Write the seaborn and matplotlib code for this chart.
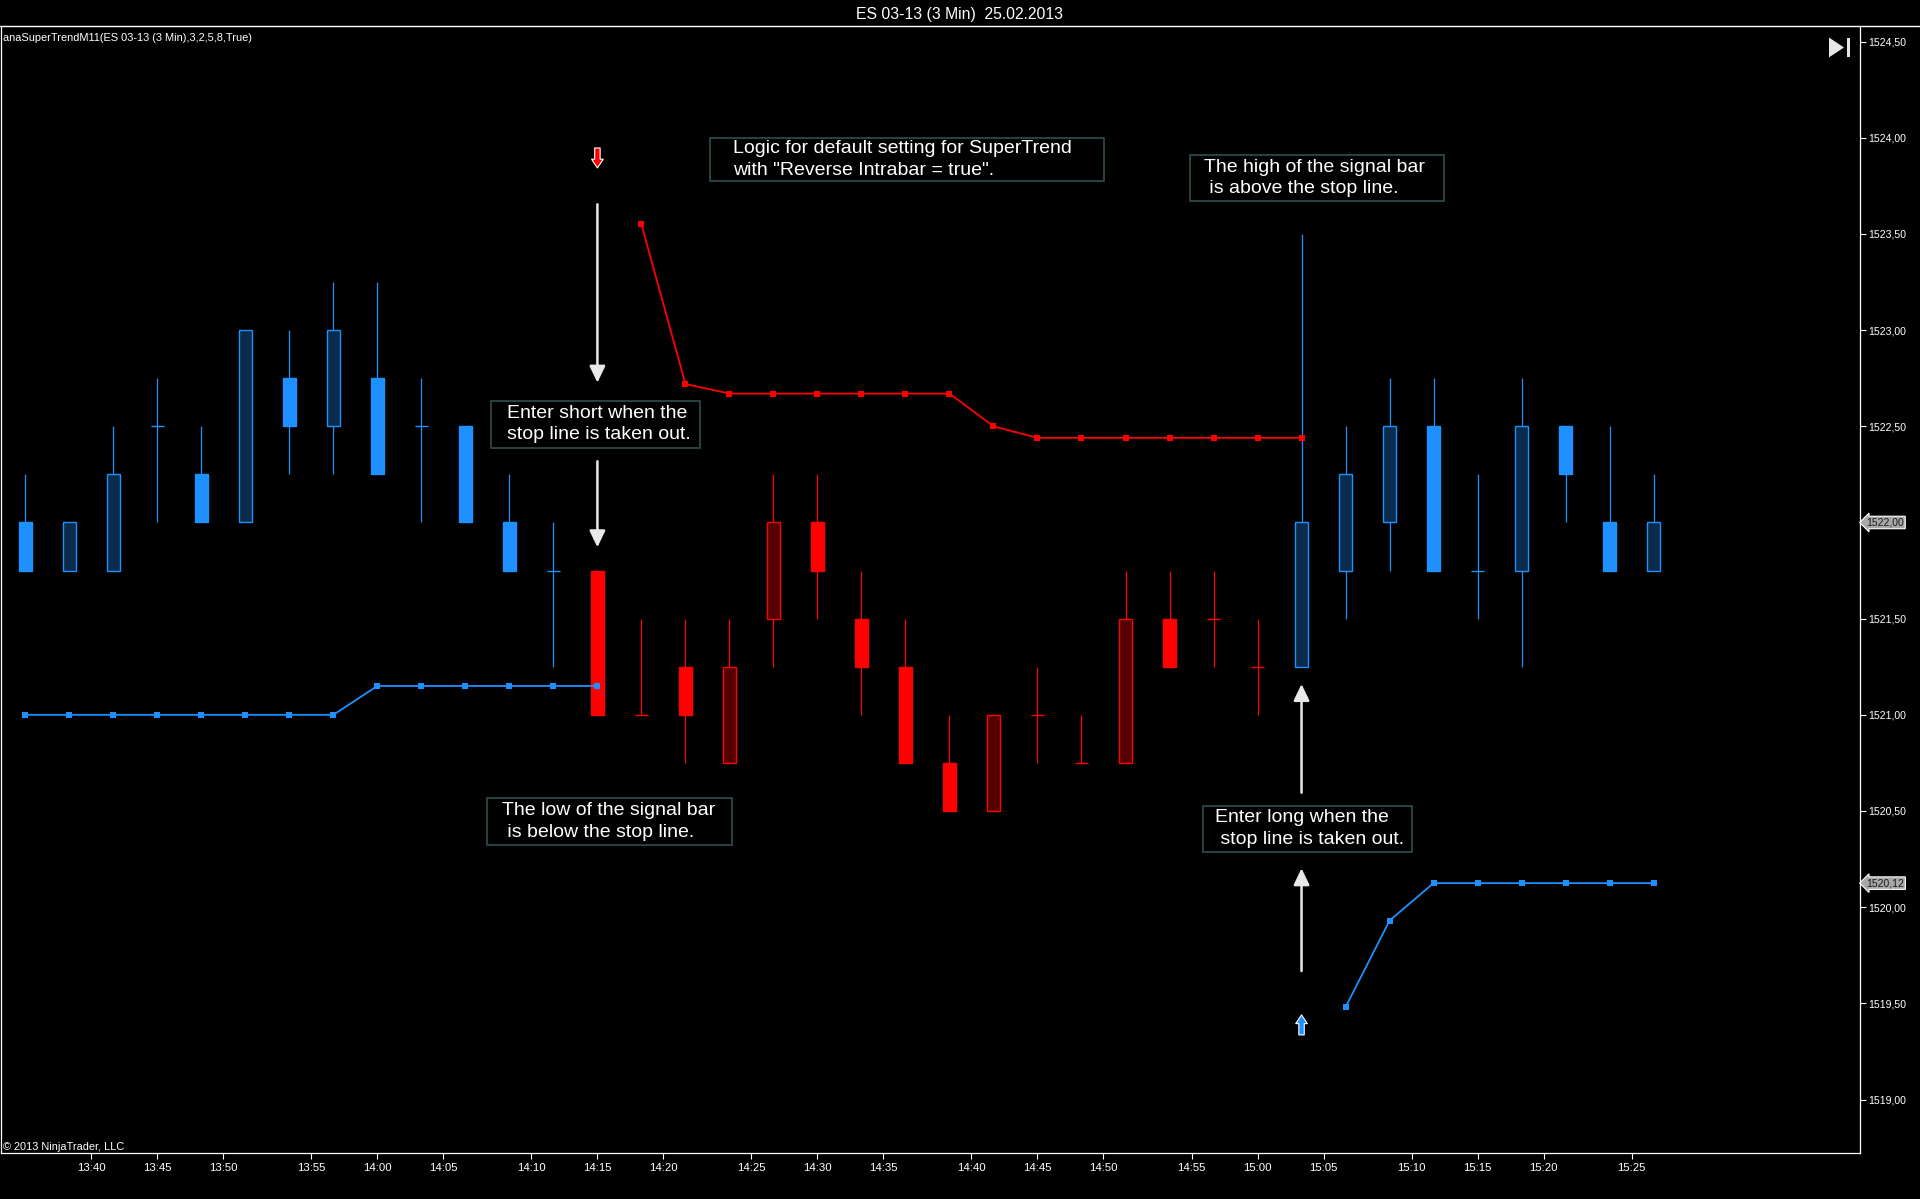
import numpy as np
import pandas as pd
import matplotlib
matplotlib.use("Agg")
import matplotlib.pyplot as plt
import seaborn as sns
from matplotlib.patches import Rectangle, Polygon
from matplotlib.lines import Line2D

# ---------------- data ----------------
bar_times = ["13:36", "13:39", "13:42", "13:45", "13:48", "13:51", "13:54", "13:57",
             "14:00", "14:03", "14:06", "14:09", "14:12", "14:15", "14:18", "14:21",
             "14:24", "14:27", "14:30", "14:33", "14:36", "14:39", "14:42", "14:45",
             "14:48", "14:51", "14:54", "14:57", "15:00", "15:03", "15:06", "15:09",
             "15:12", "15:15", "15:18", "15:21", "15:24", "15:27"]

opens = [1522.0, 1521.75, 1521.75, 1522.5, 1522.25, 1522.0, 1522.75, 1522.5,
         1522.75, 1522.5, 1522.5, 1522.0, 1521.75, 1521.75, 1521.0, 1521.25,
         1520.75, 1521.5, 1522.0, 1521.5, 1521.25, 1520.75, 1520.5, 1521.0,
         1520.75, 1520.75, 1521.5, 1521.5, 1521.25, 1521.25, 1521.75, 1522.0,
         1522.5, 1521.75, 1521.75, 1522.5, 1522.0, 1521.75]
highs = [1522.25, 1522.0, 1522.5, 1522.75, 1522.5, 1523.0, 1523.0, 1523.25,
         1523.25, 1522.75, 1522.5, 1522.25, 1522.0, 1521.75, 1521.5, 1521.5,
         1521.5, 1522.25, 1522.25, 1521.75, 1521.5, 1521.0, 1521.0, 1521.25,
         1521.0, 1521.75, 1521.75, 1521.75, 1521.5, 1523.5, 1522.5, 1522.75,
         1522.75, 1522.25, 1522.75, 1522.5, 1522.5, 1522.25]
lows = [1521.75, 1521.75, 1521.75, 1522.0, 1522.0, 1522.0, 1522.25, 1522.25,
        1522.25, 1522.0, 1522.0, 1521.75, 1521.25, 1521.0, 1521.0, 1520.75,
        1520.75, 1521.25, 1521.5, 1521.0, 1520.75, 1520.5, 1520.5, 1520.75,
        1520.75, 1520.75, 1521.25, 1521.25, 1521.0, 1521.25, 1521.5, 1521.75,
        1521.75, 1521.5, 1521.25, 1522.0, 1521.75, 1521.75]
closes = [1521.75, 1522.0, 1522.25, 1522.5, 1522.0, 1523.0, 1522.5, 1523.0,
          1522.25, 1522.5, 1522.0, 1521.75, 1521.75, 1521.0, 1521.0, 1521.0,
          1521.25, 1522.0, 1521.75, 1521.25, 1520.75, 1520.5, 1521.0, 1521.0,
          1520.75, 1521.5, 1521.25, 1521.5, 1521.25, 1522.0, 1522.25, 1522.5,
          1521.75, 1521.75, 1522.5, 1522.25, 1521.75, 1522.0]

bar_trend = (["up"] * 13) + (["down"] * 16) + (["up"] * 9)

N = None
lower_stop = [1521.0, 1521.0, 1521.0, 1521.0, 1521.0, 1521.0, 1521.0, 1521.0,
              1521.15, 1521.15, 1521.15, 1521.15, 1521.15, 1521.15, N, N,
              N, N, N, N, N, N, N, N,
              N, N, N, N, N, N, 1519.48, 1519.93,
              1520.125, 1520.125, 1520.125, 1520.125, 1520.125, 1520.125]
upper_stop = [N, N, N, N, N, N, N, N,
              N, N, N, N, N, N, 1523.55, 1522.72,
              1522.67, 1522.67, 1522.67, 1522.67, 1522.67, 1522.67, 1522.5, 1522.44,
              1522.44, 1522.44, 1522.44, 1522.44, 1522.44, 1522.44, N, N,
              N, N, N, N, N, N]

x_tick_labels = ["13:40", "13:45", "13:50", "13:55", "14:00", "14:05", "14:10", "14:15",
                 "14:20", "14:25", "14:30", "14:35", "14:40", "14:45", "14:50", "14:55",
                 "15:00", "15:05", "15:10", "15:15", "15:20", "15:25"]
y_ticks = [1519.0, 1519.5, 1520.0, 1520.5, 1521.0, 1521.5, 1522.0, 1522.5,
           1523.0, 1523.5, 1524.0, 1524.5]
last_prices = [1522.0, 1520.125]
last_price_labels = ["1522,00", "1520,12"]

# annotation boxes: (x_left, x_right, y_top, y_bottom, text_x, text)
note_boxes = [
    (15.56, 24.51, 1524.00, 1523.775, 16.08,
     'Logic for default setting for SuperTrend\nwith "Reverse Intrabar = true".'),
    (26.46, 32.24, 1523.908, 1523.672, 26.78,
     "The high of the signal bar\n is above the stop line."),
    (10.59, 15.33, 1522.632, 1522.389, 10.95,
     "Enter short when the\nstop line is taken out."),
    (10.49, 16.06, 1520.568, 1520.324, 10.83,
     "The low of the signal bar\n is below the stop line."),
    (26.75, 31.50, 1520.528, 1520.289, 27.04,
     "Enter long when the\n stop line is taken out."),
]
# white arrows: (bar index, y_tail, y_head)
note_arrows = [(13, 1523.654, 1522.727), (13, 1522.318, 1521.871),
               (29, 1520.595, 1521.16), (29, 1519.668, 1520.202)]
# signal arrows: (bar index, y_tail, y_head, colour)
signal_arrows = [(13, 1523.947, 1523.843, "#FF0000"), (29, 1519.336, 1519.44, "#1E90FF")]

# ---------------- style ----------------
sns.set_theme(style="dark", rc={
    "axes.facecolor": "black", "figure.facecolor": "black",
    "axes.edgecolor": "white", "text.color": "white",
    "xtick.color": "white", "ytick.color": "white",
    "axes.grid": False,
})
plt.rcParams["font.family"] = ["Liberation Sans", "DejaVu Sans"]

W, H = 1920, 1199
fig = plt.figure(figsize=(W / 100, H / 100), dpi=100)
ax_l, ax_r, ax_t, ax_b = 1, 1860, 26, 1153
ax = fig.add_axes([ax_l / W, 1 - ax_b / H, (ax_r - ax_l) / W, (ax_b - ax_t) / H])
ax.set_facecolor("black")

BLUE = "#1E90FF"
BLUE_DARK = "#0B2B4C"
RED = "#FF0000"
RED_DARK = "#550000"
body_w = 0.30

idx = np.arange(len(bar_times))
df = pd.DataFrame({"idx": idx, "open": opens, "high": highs, "low": lows,
                   "close": closes, "trend": bar_trend})

# wicks
for trend, col in [("up", BLUE), ("down", RED)]:
    sub = df[df.trend == trend]
    ax.vlines(sub.idx, sub.low, sub.high, color=col, linewidth=0.9, zorder=2)

# bodies
for _, r in df.iterrows():
    main = BLUE if r.trend == "up" else RED
    dark = BLUE_DARK if r.trend == "up" else RED_DARK
    if r.open == r.close:
        ax.hlines(r.open, r.idx - body_w / 2, r.idx + body_w / 2, color=main,
                  linewidth=1.0, zorder=3)
        continue
    fill = main if r.close < r.open else dark
    ax.bar(r.idx, abs(r.close - r.open), bottom=min(r.open, r.close), width=body_w,
           color=fill, edgecolor=main, linewidth=1.0, zorder=3)

# stop lines (SuperTrend)
rows = []
seg = 0
for side, vals in [("lower", lower_stop), ("upper", upper_stop)]:
    prev_nan = True
    for i, v in enumerate(vals):
        if v is None:
            prev_nan = True
            continue
        if prev_nan:
            seg += 1
            prev_nan = False
        rows.append({"idx": i, "stop": v, "side": side, "segment": seg})
stops = pd.DataFrame(rows)
sns.lineplot(data=stops, x="idx", y="stop", hue="side", units="segment",
             estimator=None, sort=False, palette={"lower": BLUE, "upper": RED},
             marker="s", markersize=3.8, markeredgewidth=0, linewidth=1.3,
             legend=False, ax=ax, zorder=4)

# annotations: boxes + text
for xl, xr, yt, yb, tx, txt in note_boxes:
    ax.add_patch(Rectangle((xl, yb), xr - xl, yt - yb, facecolor="black",
                           edgecolor="#2F4F4F", linewidth=1.2, zorder=5))
    ax.text(tx, (yt + yb) / 2, txt, ha="left", va="center", color="white",
            fontsize=14, linespacing=1.33, zorder=6)

for x, y0, y1 in note_arrows:
    ax.annotate("", xy=(x, y1), xytext=(x, y0),
                arrowprops=dict(arrowstyle="-|>,head_length=0.5,head_width=0.24",
                                color="#E8E8E8", lw=1.8, mutation_scale=20,
                                shrinkA=0, shrinkB=0), zorder=6)

for x, y0, y1, col in signal_arrows:
    ax.annotate("", xy=(x, y1), xytext=(x, y0),
                arrowprops=dict(arrowstyle="simple,head_length=0.45,head_width=0.6,tail_width=0.28",
                                fc=col, ec="white", lw=0.8, mutation_scale=14,
                                shrinkA=0, shrinkB=0), zorder=6)

# axes
ax.set_xlim(-0.552, 41.69)
ax.set_ylim(1518.722, 1524.581)

mins = [int(t[:2]) * 60 + int(t[3:]) for t in bar_times]
def tick_pos(lbl):
    m = int(lbl[:2]) * 60 + int(lbl[3:])
    for i in range(len(mins)):
        if mins[i] == m:
            return float(i)
        if i + 1 < len(mins) and mins[i] < m < mins[i + 1]:
            return i + 0.5
    return np.nan
ax.set_xticks([tick_pos(l) for l in x_tick_labels])
ax.set_xticklabels(x_tick_labels)
ax.yaxis.tick_right()
ax.set_yticks(y_ticks)
ax.set_yticklabels([f"{v:.2f}".replace(".", ",") for v in y_ticks])
ax.tick_params(axis="x", length=4, width=0.8, pad=3, labelsize=8.2, colors="white",
               bottom=True)
ax.tick_params(axis="y", length=4, width=0.8, pad=2, labelsize=7.6, colors="white",
               right=True, left=False)
ax.set_xlabel("")
ax.set_ylabel("")
for s in ["left", "right", "bottom"]:
    ax.spines[s].set_color("white")
    ax.spines[s].set_linewidth(0.9)
    ax.spines[s].set_visible(True)
ax.spines["top"].set_visible(False)

# last-price markers on the price axis
for v, lbl in zip(last_prices, last_price_labels):
    ax.annotate(lbl, xy=(1.0, v), xycoords=("axes fraction", "data"),
                xytext=(4.5, 0), textcoords="offset points", ha="left", va="center",
                fontsize=7.5, color="#1A1A1A", zorder=10, annotation_clip=False,
                bbox=dict(boxstyle="larrow,pad=0.12", fc="#A8A8A8", ec="white", lw=0.8))

# header line and title
fig.add_artist(Line2D([0, 1], [1 - ax_t / H, 1 - ax_t / H], color="white", lw=1.0))
fig.text(0.5, 1 - 14 / H, "ES 03-13 (3 Min)  25.02.2013", ha="center", va="center",
         color="white", fontsize=11.3)

ax.text(2 / (ax_r - ax_l), 1 - 7 / (ax_b - ax_t),
        "anaSuperTrendM11(ES 03-13 (3 Min),3,2,5,8,True)", transform=ax.transAxes,
        ha="left", va="top", fontsize=7.9, color="white")
ax.text(2 / (ax_r - ax_l), 0.5 / (ax_b - ax_t), "\u00a9 2013 NinjaTrader, LLC",
        transform=ax.transAxes, ha="left", va="bottom", fontsize=7.9, color="white")

# "scroll to end" icon
fig.add_artist(Polygon([(1829 / W, 1 - 37.5 / H), (1829 / W, 1 - 57.4 / H),
                        (1844 / W, 1 - 47.5 / H)],
                       closed=True, fc="#E6E6E6", ec="none"))
fig.add_artist(Rectangle((1847 / W, 1 - 57.4 / H), 3.2 / W, 19.9 / H, fc="#E6E6E6", ec="none"))

fig.savefig("out.png", dpi=100, facecolor="black")
